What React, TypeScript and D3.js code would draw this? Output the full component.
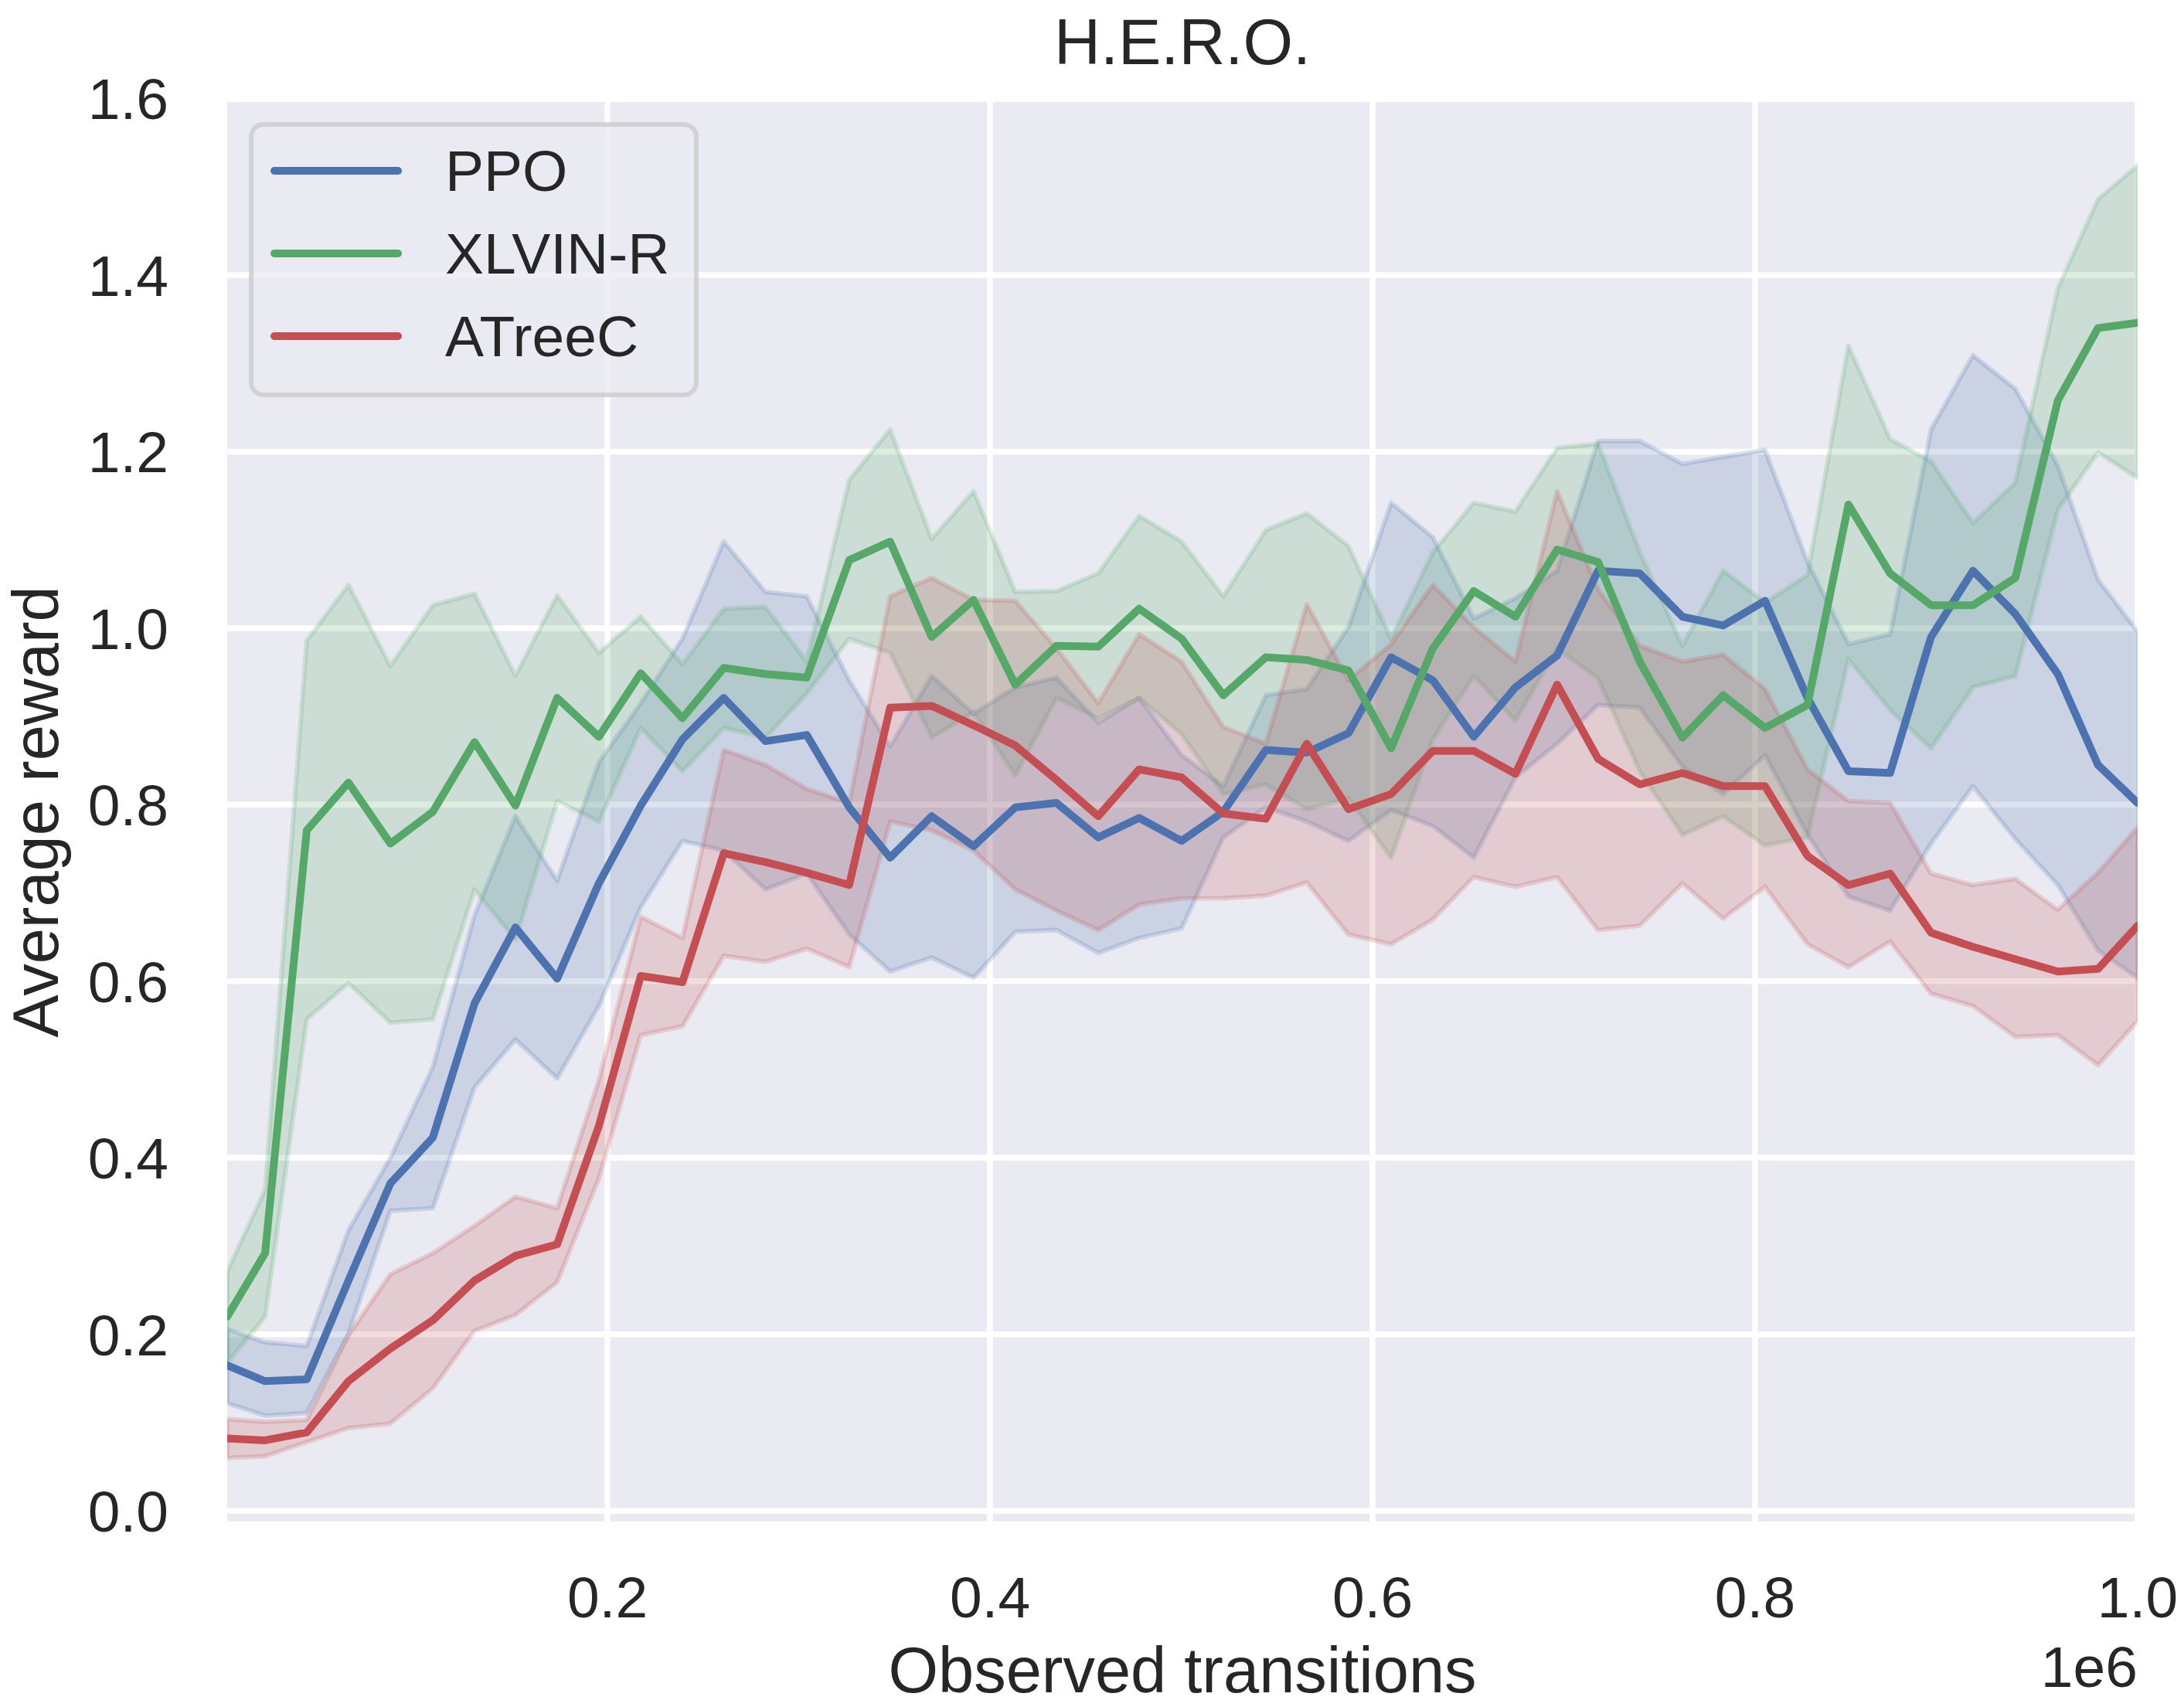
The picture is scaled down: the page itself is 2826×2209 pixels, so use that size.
import * as d3 from 'd3'

const W = 2826
const H = 2209

// observed transitions (x 1e6) for each logged point
const steps = [
  0.0012, 0.021, 0.0428, 0.0646, 0.0865, 0.1087, 0.1305, 0.1519, 0.1737, 0.1955, 0.2174, 0.2392,
  0.2608, 0.2826, 0.3042, 0.3264, 0.3478, 0.3695, 0.3914, 0.4132, 0.4348, 0.4566, 0.478, 0.5002,
  0.522, 0.5442, 0.5656, 0.5874, 0.6097, 0.6315, 0.6529, 0.6747, 0.6965, 0.7179, 0.7397,
  0.762, 0.7833, 0.8052, 0.8274, 0.8488, 0.8706, 0.892, 0.9139, 0.9361, 0.9583, 0.9793, 1.0,
]

const ppoMean = [
  0.165, 0.147, 0.149, 0.261, 0.371, 0.423, 0.575, 0.661, 0.603, 0.711, 0.799, 0.874,
  0.921, 0.872, 0.879, 0.797, 0.740, 0.787, 0.753, 0.797, 0.802, 0.763, 0.785, 0.759,
  0.792, 0.862, 0.859, 0.881, 0.967, 0.941, 0.877, 0.933, 0.969, 1.065, 1.062,
  1.013, 1.003, 1.031, 0.921, 0.838, 0.836, 0.990, 1.065, 1.016, 0.948, 0.845, 0.802,
]
const ppoHigh = [
  0.206, 0.191, 0.187, 0.318, 0.400, 0.503, 0.675, 0.787, 0.714, 0.848, 0.915, 0.988,
  1.098, 1.041, 1.036, 0.941, 0.866, 0.946, 0.903, 0.933, 0.944, 0.893, 0.921, 0.856,
  0.821, 0.924, 0.931, 1.001, 1.142, 1.103, 1.011, 1.034, 1.065, 1.212, 1.212,
  1.186, 1.194, 1.202, 1.075, 0.982, 0.993, 1.225, 1.309, 1.271, 1.184, 1.055, 0.996,
]
const ppoLow = [
  0.122, 0.108, 0.111, 0.201, 0.340, 0.343, 0.480, 0.534, 0.490, 0.572, 0.684, 0.759,
  0.748, 0.704, 0.722, 0.653, 0.611, 0.627, 0.604, 0.656, 0.658, 0.632, 0.649, 0.660,
  0.763, 0.797, 0.781, 0.759, 0.794, 0.776, 0.740, 0.831, 0.869, 0.913, 0.910,
  0.843, 0.812, 0.856, 0.766, 0.696, 0.680, 0.756, 0.821, 0.761, 0.709, 0.635, 0.604,
]

const xlvinMean = [
  0.220, 0.292, 0.771, 0.825, 0.756, 0.792, 0.871, 0.799, 0.921, 0.877, 0.949, 0.898,
  0.955, 0.948, 0.944, 1.077, 1.098, 0.990, 1.032, 0.936, 0.980, 0.979, 1.022, 0.988,
  0.924, 0.967, 0.964, 0.952, 0.864, 0.977, 1.042, 1.013, 1.089, 1.075, 0.962,
  0.876, 0.924, 0.887, 0.913, 1.140, 1.062, 1.026, 1.026, 1.057, 1.258, 1.340, 1.346,
]
const xlvinHigh = [
  0.271, 0.364, 0.986, 1.049, 0.957, 1.026, 1.039, 0.946, 1.037, 0.972, 1.013, 0.959,
  1.022, 1.024, 0.962, 1.168, 1.225, 1.101, 1.155, 1.041, 1.042, 1.062, 1.127, 1.098,
  1.036, 1.111, 1.130, 1.093, 0.988, 1.086, 1.142, 1.132, 1.204, 1.209, 1.086,
  0.980, 1.065, 1.029, 1.060, 1.320, 1.214, 1.189, 1.119, 1.165, 1.385, 1.486, 1.524,
]
const xlvinLow = [
  0.168, 0.220, 0.557, 0.598, 0.553, 0.557, 0.704, 0.647, 0.804, 0.781, 0.887, 0.838,
  0.887, 0.876, 0.926, 0.988, 0.972, 0.876, 0.905, 0.833, 0.921, 0.898, 0.921, 0.880,
  0.812, 0.823, 0.795, 0.807, 0.740, 0.874, 0.946, 0.895, 0.977, 0.943, 0.838,
  0.766, 0.787, 0.754, 0.763, 0.965, 0.907, 0.864, 0.933, 0.946, 1.134, 1.199, 1.170,
]

const atreecMean = [
  0.082, 0.080, 0.089, 0.147, 0.184, 0.216, 0.261, 0.289, 0.302, 0.436, 0.606, 0.599,
  0.745, 0.735, 0.723, 0.709, 0.910, 0.912, 0.890, 0.867, 0.828, 0.787, 0.840, 0.831,
  0.790, 0.784, 0.869, 0.795, 0.812, 0.861, 0.861, 0.835, 0.936, 0.852, 0.823,
  0.836, 0.821, 0.821, 0.742, 0.709, 0.722, 0.655, 0.639, 0.625, 0.611, 0.614, 0.663,
]
const atreecHigh = [
  0.104, 0.101, 0.103, 0.199, 0.268, 0.292, 0.323, 0.356, 0.343, 0.488, 0.673, 0.649,
  0.862, 0.845, 0.818, 0.802, 1.036, 1.057, 1.032, 1.031, 0.977, 0.915, 0.993, 0.962,
  0.888, 0.869, 1.027, 0.941, 0.982, 1.049, 1.001, 0.962, 1.155, 1.044, 0.980,
  0.962, 0.970, 0.931, 0.840, 0.804, 0.802, 0.722, 0.709, 0.716, 0.681, 0.723, 0.774,
]
const atreecLow = [
  0.060, 0.062, 0.078, 0.094, 0.099, 0.139, 0.204, 0.222, 0.259, 0.377, 0.539, 0.549,
  0.629, 0.622, 0.637, 0.616, 0.781, 0.771, 0.748, 0.704, 0.680, 0.658, 0.687, 0.694,
  0.694, 0.697, 0.712, 0.653, 0.642, 0.670, 0.718, 0.707, 0.718, 0.658, 0.663,
  0.711, 0.671, 0.707, 0.642, 0.616, 0.645, 0.586, 0.572, 0.537, 0.539, 0.505, 0.555,
]

const seriesNames = ['PPO', 'XLVIN-R', 'ATreeC']
const seriesColors = ['#4C72B0', '#55A868', '#C44E52']
const yTickValues = [0, 0.2, 0.4, 0.6, 0.8, 1.0, 1.2, 1.4, 1.6]
const xTickValues = [0.2, 0.4, 0.6, 0.8, 1.0]

const series = [
  { name: seriesNames[0], color: seriesColors[0], mean: ppoMean, low: ppoLow, high: ppoHigh },
  { name: seriesNames[1], color: seriesColors[1], mean: xlvinMean, low: xlvinLow, high: xlvinHigh },
  { name: seriesNames[2], color: seriesColors[2], mean: atreecMean, low: atreecLow, high: atreecHigh },
]

const font = '"Liberation Sans", Arial, Helvetica, sans-serif'
const ink = '#262626'

export default function App() {
  const plot = { left: 294, right: 2766, top: 132, bottom: 1969 }

  const x = d3.scaleLinear().domain([steps[0], 1.0]).range([plot.left, plot.right])
  const y = d3.scaleLinear().domain([-0.012, 1.596]).range([plot.bottom, plot.top])

  const line = (vals: number[]) =>
    d3.line<number>().x((_, i) => x(steps[i])).y(d => y(d))(vals) || ''
  const band = (lo: number[], hi: number[]) =>
    d3.area<number>()
      .x((_, i) => x(steps[i]))
      .y0((_, i) => y(lo[i]))
      .y1(d => y(d))(hi) || ''

  const legend = { x: 325, y: 161, w: 576, h: 350 }
  const legendRow = 107

  return (
    <svg width={W} height={H} style={{ position: 'absolute', left: 0, top: 0, background: '#fff' }}>
      <defs>
        <clipPath id="plot-clip">
          <rect x={plot.left} y={plot.top} width={plot.right - plot.left} height={plot.bottom - plot.top} />
        </clipPath>
      </defs>

      <rect x={plot.left} y={plot.top} width={plot.right - plot.left} height={plot.bottom - plot.top} fill="#EAEAF2" />

      {/* grid */}
      <g stroke="#fff" strokeWidth={7.5}>
        {yTickValues.map(t => (
          <line key={'gy' + t} x1={plot.left} x2={plot.right} y1={y(t)} y2={y(t)} />
        ))}
        {xTickValues.map(t => (
          <line key={'gx' + t} x1={x(t)} x2={x(t)} y1={plot.top} y2={plot.bottom} />
        ))}
      </g>

      <g clipPath="url(#plot-clip)">
        {series.map(s => (
          <path key={'b' + s.name} d={band(s.low, s.high)}
            fill={s.color} fillOpacity={0.2}
            stroke={s.color} strokeOpacity={0.2} strokeWidth={6} strokeLinejoin="round" />
        ))}
        {series.map(s => (
          <path key={'l' + s.name} d={line(s.mean)} fill="none"
            stroke={s.color} strokeWidth={10} strokeLinejoin="round" strokeLinecap="round" />
        ))}
      </g>

      {/* y ticks */}
      <g fontFamily={font} fontSize={75} fill={ink} textAnchor="end">
        {yTickValues.map(t => (
          <text key={'ty' + t} x={218} y={y(t) + 27}>{t.toFixed(1)}</text>
        ))}
      </g>
      {/* x ticks */}
      <g fontFamily={font} fontSize={75} fill={ink} textAnchor="middle">
        {xTickValues.map(t => (
          <text key={'tx' + t} x={x(t)} y={2093}>{t.toFixed(1)}</text>
        ))}
      </g>
      <text x={plot.right} y={2183} textAnchor="end" fontFamily={font} fontSize={75} fill={ink}>1e6</text>

      <text x={(plot.left + plot.right) / 2} y={2190} textAnchor="middle" fontFamily={font} fontSize={83} fill={ink}>
        Observed transitions
      </text>
      <text transform={`translate(75, ${(plot.top + plot.bottom) / 2}) rotate(-90)`} textAnchor="middle"
        fontFamily={font} fontSize={83} fill={ink}>
        Average reward
      </text>
      <text x={(plot.left + plot.right) / 2} y={83} textAnchor="middle" fontFamily={font} fontSize={83} fill={ink}>
        H.E.R.O.
      </text>

      {/* legend */}
      <rect x={legend.x} y={legend.y} width={legend.w} height={legend.h} rx={16}
        fill="#EAEAF2" fillOpacity={0.8} stroke="#cccccc" strokeOpacity={0.8} strokeWidth={6} />
      {series.map((s, i) => (
        <g key={'lg' + s.name}>
          <line x1={355} x2={515} y1={221 + i * legendRow} y2={221 + i * legendRow}
            stroke={s.color} strokeWidth={10} strokeLinecap="round" />
          <text x={576} y={247 + i * legendRow} fontFamily={font} fontSize={75} fill={ink}>{s.name}</text>
        </g>
      ))}
    </svg>
  )
}
